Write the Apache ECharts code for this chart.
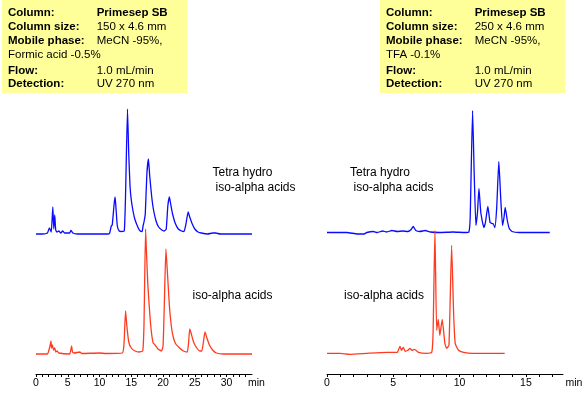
<!DOCTYPE html>
<html>
<head>
<meta charset="utf-8">
<script src="https://cdn.jsdelivr.net/npm/echarts@6/dist/echarts.min.js"></script>
<style>
  html, body { margin: 0; padding: 0; background: #fff; }
  #chart { width: 582px; height: 399px; }
</style>
</head>
<body>
<div id="chart"></div>
<script>
// 左图 (150 x 4.6 mm, formic acid) - time in min, signal in relative units
var leftTetra = [
  [0, 0], [1.0, 0], [1.8, 1], [2.1, 6], [2.4, 2], [2.65, 27], [2.8, 5], [2.95, 19], [3.1, 4],
  [3.3, 2], [3.6, 3], [3.9, 1], [4.2, 3], [4.5, 1], [5.3, 1], [5.5, 3.5], [5.8, 1], [6.5, 0],
  [11.4, 0], [11.6, 1], [11.85, 8], [12.0, 9], [12.3, 30], [12.45, 37], [12.6, 25], [12.8, 8],
  [13.1, 3], [13.5, 2.5], [13.9, 3], [14.1, 40], [14.4, 125], [14.6, 80], [14.8, 48], [15.0, 34],
  [15.3, 22], [15.6, 14], [16.1, 6], [16.4, 3], [16.7, 2.5], [16.85, 8], [17.0, 12], [17.2, 20],
  [17.45, 60], [17.7, 75], [17.9, 58], [18.2, 38], [18.5, 24], [18.9, 13], [19.3, 7], [19.8, 4],
  [20.2, 3], [20.5, 5], [20.75, 28], [21.0, 37], [21.2, 30], [21.5, 20], [21.9, 11], [22.4, 5],
  [22.9, 3], [23.3, 2.5], [23.6, 10], [23.95, 22], [24.2, 17], [24.6, 10], [25.0, 5], [25.5, 2],
  [26.0, 1], [27.0, 0], [27.8, 1], [28.3, 1], [29.0, 0], [34, 0]
];
var leftIso = [
  [0, 0], [1.8, 0], [2.0, 3], [2.2, 8], [2.35, 13], [2.45, 6], [2.6, 9], [2.75, 4], [2.95, 6],
  [3.1, 2], [3.3, 3], [3.6, 1], [5.3, 0], [5.45, 3], [5.6, 8], [5.75, 2], [6.0, 1], [6.9, 2],
  [7.2, 0.5], [10.0, 1], [11.0, 0.5], [13.6, 1], [13.85, 10], [14.1, 43], [14.3, 28], [14.6, 12],
  [15.0, 6], [15.6, 3], [16.2, 2], [16.8, 3], [17.0, 30], [17.25, 125], [17.4, 100], [17.6, 70],
  [17.8, 50], [18.0, 33], [18.2, 20], [18.45, 11], [18.75, 9], [19.2, 5], [19.75, 3], [20.0, 8],
  [20.2, 50], [20.45, 105], [20.7, 80], [21.0, 48], [21.3, 28], [21.6, 17], [22.0, 10], [22.6, 6],
  [23.2, 3], [23.8, 2], [24.0, 10], [24.2, 25], [24.45, 20], [24.8, 12], [25.3, 6], [25.8, 3],
  [26.1, 3], [26.35, 12], [26.6, 22], [26.9, 16], [27.3, 9], [27.8, 4], [28.4, 1], [29.5, 0], [34, 0]
];
// 右图 (250 x 4.6 mm, TFA)
var rightTetra = [
  [0, 0], [1.5, 0], [2.3, -1.5], [2.8, -1.5], [3.0, 0], [3.5, 1], [3.8, 0], [4.2, 1.5], [4.5, 0.5],
  [4.9, 2], [5.3, 1], [5.7, 1.5], [6.1, 1], [6.35, 3], [6.5, 6], [6.7, 2], [7.0, 1], [7.4, 2],
  [7.8, 0.5], [8.5, 0], [9.5, 0.5], [10.4, 0], [10.7, 0.5], [10.8, 15], [10.98, 122], [11.1, 60],
  [11.23, 7], [11.35, 20], [11.46, 44], [11.6, 20], [11.83, 5], [11.95, 10], [12.13, 26],
  [12.3, 10], [12.45, 9], [12.55, 8.5], [12.66, 5], [12.8, 25], [12.96, 71], [13.1, 35],
  [13.24, 7], [13.35, 15], [13.44, 25], [13.6, 12], [13.75, 4], [13.95, 1], [14.5, 0], [16.8, 0]
];
var rightIso = [
  [0, 0], [1.0, 0], [1.7, -1], [3.0, 0], [4.5, 1], [5.3, 1], [5.5, 7], [5.62, 3], [5.75, 6],
  [5.9, 2], [6.1, 3], [6.25, 5], [6.4, 3], [6.6, 4], [6.9, 1], [7.5, 0], [7.9, 1], [8.0, 20],
  [8.14, 123], [8.27, 23], [8.39, 34], [8.51, 18], [8.69, 34], [8.89, 10], [9.02, 5], [9.2, 8],
  [9.4, 108], [9.55, 40], [9.67, 10], [9.92, 3], [10.3, 1], [11.0, 0], [13.4, 0]
];
var xTickLabels = [0, 5, 10, 15, 20, 25, 30];

var font = '"Liberation Sans", Arial, sans-serif';
var blue = '#0a0aff';
var red = '#ff3b1f';

// 条件框的文字
function infoBox(x0, values) {
  var labels = ['Column:', 'Column size:', 'Mobile phase:', '', 'Flow:', 'Detection:'];
  var ys = [13, 26.5, 41, 54.5, 70.5, 83.5];
  var els = [{
    type: 'rect', shape: { x: x0, y: 0, width: 185, height: 93 },
    style: { fill: '#ffff99' }, z: 1
  }];
  for (var i = 0; i < labels.length; i++) {
    if (labels[i]) {
      els.push({ type: 'text', x: x0 + 6, y: ys[i], z: 2,
        style: { text: labels[i], font: 'bold 11.5px ' + font, fill: '#000', verticalAlign: 'middle' } });
    }
    var isValueCol = (i != 3);
    els.push({ type: 'text', x: isValueCol ? x0 + 94.7 : x0 + 6, y: ys[i], z: 2,
      style: { text: values[i], font: (i == 0 ? 'bold ' : '') + '11.5px ' + font, fill: '#000', verticalAlign: 'middle' } });
  }
  return els;
}

function txt(x, y, s) {
  return { type: 'text', x: x, y: y, z: 3,
    style: { text: s, font: '12px ' + font, fill: '#000', verticalAlign: 'middle' } };
}

function xAxisCfg(gridIndex, max) {
  return {
    type: 'value', gridIndex: gridIndex, min: 0, max: max, interval: 1,
    axisLine: { onZero: false, lineStyle: { color: '#000', width: 1 } },
    axisTick: { length: 3, lineStyle: { color: '#000' } },
    splitLine: { show: false },
    axisLabel: {
      margin: 4, color: '#000', fontSize: 10.5, fontFamily: font,
      showMaxLabel: false,
      formatter: function (v) { return xTickLabels.indexOf(v) >= 0 ? String(v) : ''; }
    }
  };
}

function yAxisCfg(gridIndex, min, max) {
  return { type: 'value', gridIndex: gridIndex, min: min, max: max, show: false };
}

function trace(data, color, xi, yi) {
  return {
    type: 'line', data: data, xAxisIndex: xi, yAxisIndex: yi,
    showSymbol: false, smooth: 0.15, animation: false,
    lineStyle: { color: color, width: 1.3 }
  };
}

var option = {
  backgroundColor: '#fff',
  animation: false,
  grid: [
    { left: 36, top: 100, width: 216, bottom: 25 },
    { left: 327, top: 100, width: 236, bottom: 25 }
  ],
  xAxis: [xAxisCfg(0, 34), xAxisCfg(1, 17.8)],
  yAxis: [
    yAxisCfg(0, -140, 134),
    yAxisCfg(0, -20, 254),
    yAxisCfg(1, -141.5, 132.5),
    yAxisCfg(1, -20.7, 253.3)
  ],
  series: [
    trace(leftTetra, blue, 0, 0),
    trace(leftIso, red, 0, 1),
    trace(rightTetra, blue, 1, 2),
    trace(rightIso, red, 1, 3)
  ],
  graphic: [].concat(
    infoBox(2, ['Primesep SB', '150 x 4.6 mm', 'MeCN -95%,', 'Formic acid -0.5%', '1.0 mL/min', 'UV 270 nm']),
    infoBox(380, ['Primesep SB', '250 x 4.6 mm', 'MeCN -95%,', 'TFA -0.1%', '1.0 mL/min', 'UV 270 nm']),
    [
      txt(212.5, 173, 'Tetra hydro'),
      txt(215.5, 188, 'iso-alpha acids'),
      txt(192.5, 296, 'iso-alpha acids'),
      txt(350, 173, 'Tetra hydro'),
      txt(353.5, 188, 'iso-alpha acids'),
      txt(344, 296, 'iso-alpha acids'),
      { type: 'text', x: 248, y: 383, z: 3, style: { text: 'min', font: '10.5px ' + font, fill: '#000', verticalAlign: 'middle' } },
      { type: 'text', x: 565.5, y: 383, z: 3, style: { text: 'min', font: '10.5px ' + font, fill: '#000', verticalAlign: 'middle' } }
    ]
  )
};

var myChart = echarts.init(document.getElementById('chart'), null, { renderer: 'canvas' });
myChart.setOption(option);
</script>
</body>
</html>
